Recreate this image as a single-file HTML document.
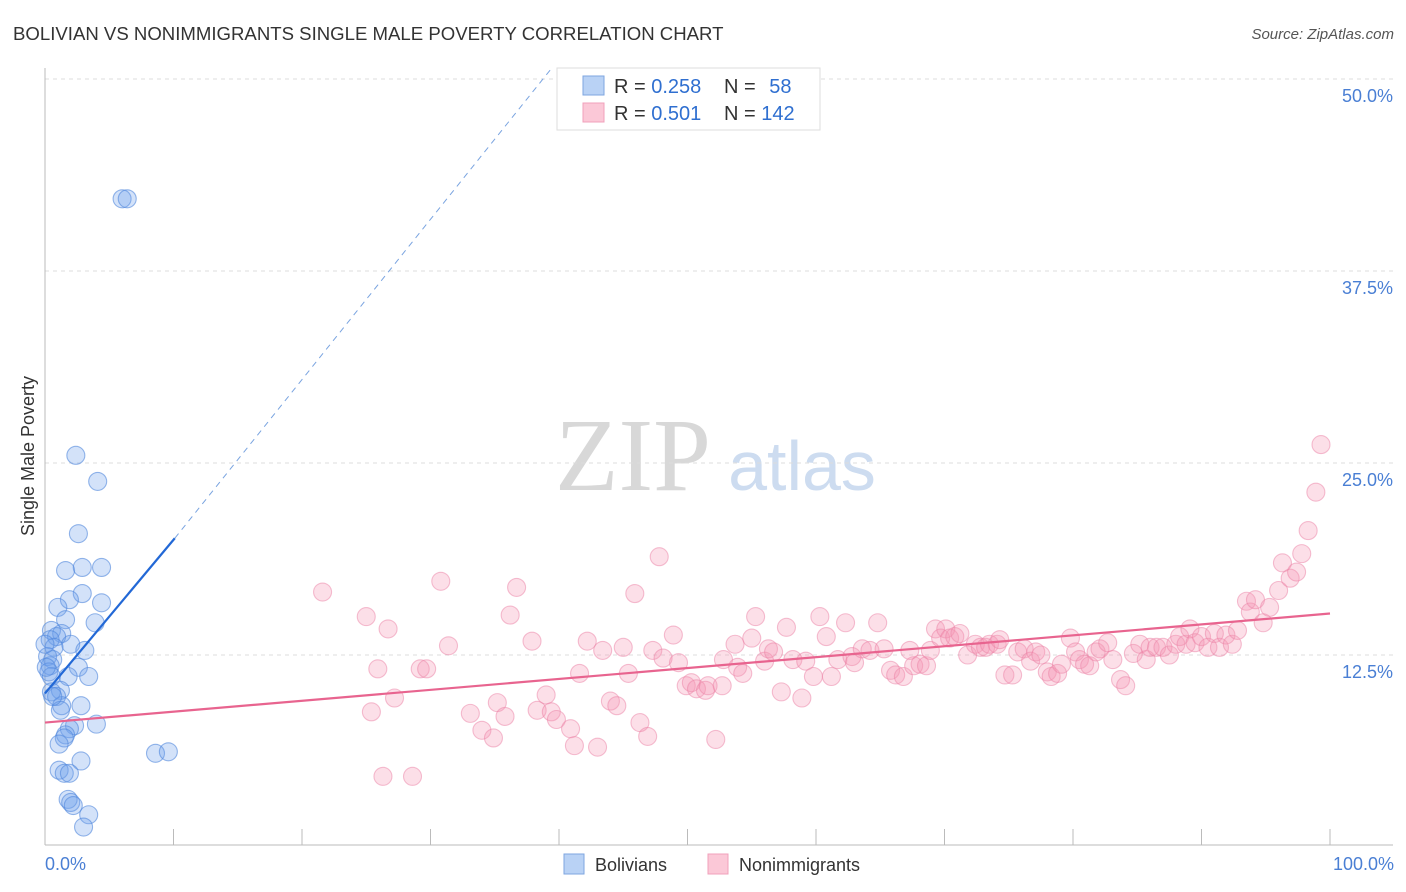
<!DOCTYPE html>
<html><head><meta charset="utf-8"><style>
body{margin:0;background:#fff;font-family:"Liberation Sans",sans-serif;}
svg{display:block}
</style></head><body>
<svg id="chart" width="1406" height="892">
<text x="13" y="40" font-size="18.6" fill="#333">BOLIVIAN VS NONIMMIGRANTS SINGLE MALE POVERTY CORRELATION CHART</text>
<text x="1394" y="39" font-size="15" fill="#555" font-style="italic" text-anchor="end">Source: ZipAtlas.com</text>
<text x="633" y="490" font-size="104" fill="#d8d8d8" font-family="Liberation Serif,serif" text-anchor="middle">ZIP</text>
<text x="802" y="490" font-size="70" fill="#cddcf0" text-anchor="middle">atlas</text>
<g id="grid"></g>
<g id="axes"></g>
<g id="pts"></g>
<g id="lines"></g>
<text transform="translate(34,456) rotate(-90)" font-size="18" fill="#333" text-anchor="middle">Single Male Poverty</text>
<text x="45" y="870" font-size="18" fill="#4a7fd4">0.0%</text>
<text x="1394" y="870" font-size="18" fill="#4a7fd4" text-anchor="end">100.0%</text>
<g>
<rect x="557" y="68" width="263" height="62" fill="#fff" stroke="#ddd"/>
<rect x="583" y="76" width="21" height="19" fill="#b9d2f5" stroke="#7ea6e0"/>
<rect x="583" y="103" width="21" height="19" fill="#fbc8d7" stroke="#f0a0bb"/>
<text x="614" y="93" font-size="20" fill="#333">R = <tspan fill="#2f6fd0">0.258</tspan></text>
<text x="724" y="93" font-size="20" fill="#333">N = <tspan fill="#2f6fd0" dx="8">58</tspan></text>
<text x="614" y="120" font-size="20" fill="#333">R = <tspan fill="#2f6fd0">0.501</tspan></text>
<text x="724" y="120" font-size="20" fill="#333">N = <tspan fill="#2f6fd0">142</tspan></text>
</g>
<g>
<rect x="564" y="854" width="20" height="20" fill="#b9d2f5" stroke="#7ea6e0"/>
<text x="595" y="871" font-size="18" fill="#333">Bolivians</text>
<rect x="708" y="854" width="20" height="20" fill="#fbc8d7" stroke="#f0a0bb"/>
<text x="739" y="871" font-size="18" fill="#333">Nonimmigrants</text>
</g>
</svg>
<script>
const yTicks=[12.5,25,37.5,50];
const yTickLabels=["12.5%","25.0%","37.5%","50.0%"];
const xTicks=[0,10,20,30,40,50,60,70,80,90,100];
const blueX=[6.0,6.4,2.4,4.1,2.6,1.6,2.9,4.4,2.9,1.9,1.0,4.4,1.6,3.9,0.5,1.3,0.9,0.4,2.0,0.7,3.1,0.2,0.6,0.4,2.6,0.3,0.5,1.8,3.4,1.2,0.5,0.9,1.3,2.8,1.2,2.3,4.0,1.9,1.6,1.5,1.1,2.8,1.1,1.5,1.9,1.8,2.0,2.2,3.4,3.0,8.6,9.6,0.6,0.0,0.1];
const blueY=[42.2,42.2,25.5,23.8,20.4,18.0,18.2,18.2,16.5,16.1,15.6,15.9,14.8,14.6,14.1,13.9,13.7,13.5,13.2,13.0,12.8,12.4,12.2,11.8,11.7,11.4,11.1,11.1,11.1,10.2,10.1,9.8,9.2,9.2,8.9,7.9,8.0,7.7,7.3,7.1,6.7,5.6,5.0,4.8,4.8,3.1,2.9,2.7,2.1,1.3,6.1,6.2,9.8,13.2,11.7];
const pinkX=[21.6,25.0,26.7,25.9,25.4,27.2,29.2,29.7,26.3,28.6,30.8,31.4,33.1,34.0,34.9,35.2,35.8,36.2,36.7,37.9,38.3,39.0,39.4,39.8,40.9,41.2,41.6,42.2,43.0,43.4,44.0,44.5,45.0,45.4,45.9,46.3,46.9,47.3,47.8,48.1,48.9,49.3,49.9,50.3,50.7,51.4,51.6,52.2,52.7,52.8,53.7,53.9,54.3,55.0,55.3,56.0,56.3,56.7,57.3,57.7,58.2,58.9,59.2,59.8,60.3,60.8,61.2,61.7,62.3,62.8,63.0,63.6,64.2,64.8,65.3,65.8,66.2,66.8,67.3,67.6,68.1,68.6,68.9,69.3,69.7,70.1,70.4,70.8,71.2,71.8,72.4,72.8,73.2,73.5,74.1,74.3,74.7,75.3,75.7,76.2,76.7,77.1,77.5,78.0,78.3,78.8,79.1,79.8,80.2,80.5,80.9,81.3,81.8,82.1,82.7,83.1,83.7,84.1,84.7,85.2,85.7,86.0,86.5,87.0,87.5,88.0,88.3,88.8,89.1,89.5,90.0,90.5,91.0,91.4,91.9,92.4,92.8,93.5,93.8,94.2,94.8,95.3,96.0,96.3,96.9,97.4,97.8,98.3,98.9,99.3];
const pinkY=[16.6,15.0,14.2,11.6,8.8,9.7,11.6,11.6,4.6,4.6,17.3,13.1,8.7,7.6,7.1,9.4,8.5,15.1,16.9,13.4,8.9,9.9,8.8,8.3,7.7,6.6,11.3,13.4,6.5,12.8,9.5,9.2,13.0,11.3,16.5,8.1,7.2,12.8,18.9,12.3,13.8,12.0,10.5,10.7,10.3,10.2,10.5,7.0,10.5,12.2,13.2,11.7,11.3,13.6,15.0,12.1,12.9,12.7,10.1,14.3,12.2,9.7,12.1,11.1,15.0,13.7,11.1,12.2,14.6,12.4,12.0,12.9,12.8,14.6,12.9,11.5,11.2,11.1,12.8,11.8,11.9,11.8,12.8,14.2,13.6,14.2,13.6,13.7,13.9,12.5,13.2,13.0,13.0,13.2,13.2,13.5,11.2,11.2,12.7,12.9,12.1,12.7,12.5,11.4,11.1,11.3,11.9,13.6,12.7,12.2,11.9,11.8,12.7,12.9,13.3,12.2,10.9,10.5,12.6,13.2,12.2,13.0,13.0,13.0,12.5,13.2,13.7,13.2,14.2,13.3,13.7,13.0,13.9,13.0,13.8,13.2,14.1,16.0,15.3,16.1,14.6,15.6,16.7,18.5,17.5,17.9,19.1,20.6,23.1,26.2];
const blueTrend=[10.0,1.0]; // intercept, slope
const pinkTrend=[8.1,0.071];
const blueSolidEnd=10.1;

const NS="http://www.w3.org/2000/svg";
const X0=45,X1=1330,Y0=847,PY=15.36;
const sx=v=>X0+v*(X1-X0)/100;
const sy=v=>Y0-v*PY;
function mk(tag,attrs,parent){const e=document.createElementNS(NS,tag);for(const k in attrs)e.setAttribute(k,attrs[k]);parent.appendChild(e);return e;}
const grid=document.getElementById('grid'),axes=document.getElementById('axes'),pts=document.getElementById('pts'),lines=document.getElementById('lines');
yTicks.forEach((t,i)=>{
 const l=mk('line',{x1:45,x2:1393,y1:sy(t),y2:sy(t),stroke:'#ddd','stroke-dasharray':'4,4'},grid);
 
 
 const tx=mk('text',{x:1393,y:sy(t)+23,'font-size':18,fill:'#4a7fd4','text-anchor':'end'},grid);
 tx.textContent=yTickLabels[i];
 
 
});
const ya=mk('line',{x1:45,x2:45,y1:68,y2:845,stroke:'#bbb'},axes);


const xa=mk('line',{x1:45,x2:1393,y1:845,y2:845,stroke:'#bbb'},axes);


xTicks.forEach(t=>{
 const l=mk('line',{x1:sx(t),x2:sx(t),y1:829,y2:845,stroke:'#bbb'},axes);
 
 
});
pinkX.forEach((x,i)=>{
 const c=mk('circle',{cx:sx(x),cy:sy(pinkY[i]),r:9,fill:'rgba(244,150,180,0.3)',stroke:'rgba(235,130,165,0.5)','stroke-width':1.1},pts);
 
 
});
blueX.forEach((x,i)=>{
 const c=mk('circle',{cx:sx(x),cy:sy(blueY[i]),r:9,fill:'rgba(110,160,235,0.3)',stroke:'rgba(80,135,220,0.6)','stroke-width':1.1},pts);
 
 
});
const bEnd=(50-blueTrend[0])/blueTrend[1];
const bs=mk('line',{x1:sx(0),y1:sy(blueTrend[0]),x2:sx(blueSolidEnd),y2:sy(blueTrend[0]+blueTrend[1]*blueSolidEnd),stroke:'#2268d6','stroke-width':2.2},lines);


const bd=mk('line',{x1:sx(blueSolidEnd),y1:sy(blueTrend[0]+blueTrend[1]*blueSolidEnd),x2:sx(bEnd)-8,y2:sy(50)-10,stroke:'#7aa4e0','stroke-width':1,'stroke-dasharray':'6,5'},lines);


const pl=mk('line',{x1:sx(0),y1:sy(pinkTrend[0]),x2:sx(100),y2:sy(pinkTrend[0]+pinkTrend[1]*100),stroke:'#e8648f','stroke-width':2.2},lines);


</script>
</body></html>
